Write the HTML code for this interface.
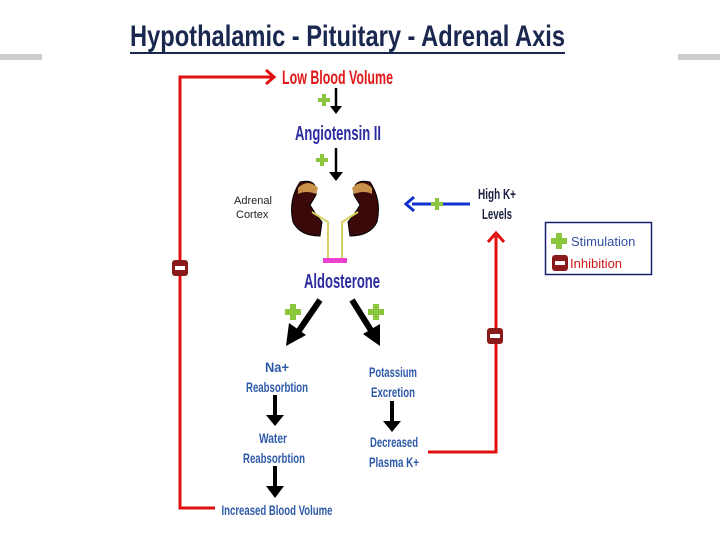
<!DOCTYPE html>
<html><head><meta charset="utf-8"><style>
html,body{margin:0;padding:0;background:#fff;width:720px;height:540px;overflow:hidden}
svg{display:block}
.c{font-family:"Liberation Sans",sans-serif;font-weight:bold}
</style></head><body>
<svg width="720" height="540" viewBox="0 0 720 540" xmlns="http://www.w3.org/2000/svg">
<defs>
<g id="plus"><rect x="-3" y="-8" width="6" height="16" fill="#8cc63f"/><rect x="-8" y="-3" width="16" height="6" fill="#8cc63f"/></g>
<g id="splus"><rect x="-2" y="-6" width="4" height="12" fill="#8cc63f"/><rect x="-6" y="-2" width="12" height="4" fill="#8cc63f"/></g>
<g id="minus"><rect x="-8" y="-8" width="16" height="16" rx="3" fill="#8b1a1a"/><rect x="-5" y="-2" width="10" height="4" fill="#fff"/></g>
</defs>
<rect x="0" y="54" width="42" height="6" fill="#ccc"/>
<rect x="678" y="54" width="42" height="6" fill="#ccc"/>
<text class="c" x="130" y="46" font-size="30" fill="#1a2850" textLength="435" lengthAdjust="spacingAndGlyphs">Hypothalamic - Pituitary - Adrenal Axis</text>
<rect x="130" y="52" width="435" height="2" fill="#1a2850"/>
<polyline points="215,508 180,508 180,77 272,77" fill="none" stroke="#e01010" stroke-width="3"/>
<polyline points="266,70 274,77 266,84" fill="none" stroke="#e01010" stroke-width="3"/>
<use href="#minus" x="180" y="268"/>
<polyline points="428,452 496,452 496,236" fill="none" stroke="#e01010" stroke-width="3"/>
<polyline points="488,242 496,233 504,242" fill="none" stroke="#e01010" stroke-width="3"/>
<use href="#minus" x="495" y="336"/>
<text class="c" x="282" y="84" font-size="19" fill="#e01818" textLength="111" lengthAdjust="spacingAndGlyphs">Low Blood Volume</text>
<use href="#splus" x="324" y="100"/>
<line x1="336" y1="88" x2="336" y2="108" stroke="#000" stroke-width="2.5"/><polygon points="330,106 342,106 336,114" fill="#000"/>
<text class="c" x="295" y="140" font-size="20" fill="#2a2ca0" textLength="86" lengthAdjust="spacingAndGlyphs">Angiotensin II</text>
<use href="#splus" x="322" y="160"/>
<line x1="336" y1="148" x2="336" y2="174" stroke="#000" stroke-width="2.5"/><polygon points="329,172 343,172 336,181" fill="#000"/>
<path d="M300,182 Q318,178 316,195 L310,205 Q316,215 322,222 L320,236 Q300,236 293,222 Q288,200 300,182 Z" fill="#3a0a0a" stroke="#000" stroke-width="1"/>
<path d="M298,188 Q308,178 318,188 L316,194 Q306,190 298,194 Z" fill="#c8904a"/>
<path d="M370,182 Q352,178 354,195 L360,205 Q354,215 348,222 L350,236 Q370,236 377,222 Q382,200 370,182 Z" fill="#3a0a0a" stroke="#000" stroke-width="1"/>
<path d="M372,188 Q362,178 352,188 L354,194 Q364,190 372,194 Z" fill="#c8904a"/>
<polyline points="312,212 328,222 328,258" fill="none" stroke="#d8d060" stroke-width="2"/>
<polyline points="358,212 342,222 342,258" fill="none" stroke="#d8d060" stroke-width="2"/>
<rect x="323" y="258" width="24" height="5" fill="#ee40d0"/>
<text x="234" y="204" font-family="Liberation Sans,sans-serif" font-size="11" fill="#222">Adrenal</text>
<text x="236" y="218" font-family="Liberation Sans,sans-serif" font-size="11" fill="#222">Cortex</text>
<line x1="470" y1="204" x2="412" y2="204" stroke="#1030d0" stroke-width="3"/>
<polyline points="414,197 406,204 414,211" fill="none" stroke="#1030d0" stroke-width="3"/>
<use href="#splus" x="437" y="204"/>
<text class="c" x="497" y="199" font-size="15" fill="#1a2040" text-anchor="middle" textLength="38" lengthAdjust="spacingAndGlyphs">High K+</text>
<text class="c" x="497" y="219" font-size="15" fill="#1a2040" text-anchor="middle" textLength="30" lengthAdjust="spacingAndGlyphs">Levels</text>
<text class="c" x="342" y="288" font-size="20" fill="#2a2ca0" text-anchor="middle" textLength="76" lengthAdjust="spacingAndGlyphs">Aldosterone</text>
<line x1="320" y1="300" x2="298" y2="332" stroke="#000" stroke-width="6"/><polygon points="286,346 289,323 306,335" fill="#000"/>
<line x1="352" y1="300" x2="372" y2="332" stroke="#000" stroke-width="6"/><polygon points="380,346 363,334 380,324" fill="#000"/>
<use href="#plus" x="293" y="312"/><use href="#plus" x="376" y="312"/>
<g class="c" fill="#2e5aa8" text-anchor="middle" font-size="14">
<text x="277" y="372" textLength="24" lengthAdjust="spacingAndGlyphs">Na+</text>
<text x="277" y="392" textLength="62" lengthAdjust="spacingAndGlyphs">Reabsorbtion</text>
<text x="273" y="443" textLength="28" lengthAdjust="spacingAndGlyphs">Water</text>
<text x="274" y="463" textLength="62" lengthAdjust="spacingAndGlyphs">Reabsorbtion</text>
<text x="277" y="515" textLength="111" lengthAdjust="spacingAndGlyphs">Increased Blood Volume</text>
<text x="393" y="377" textLength="48" lengthAdjust="spacingAndGlyphs">Potassium</text>
<text x="393" y="397" textLength="44" lengthAdjust="spacingAndGlyphs">Excretion</text>
<text x="394" y="447" textLength="48" lengthAdjust="spacingAndGlyphs">Decreased</text>
<text x="394" y="467" textLength="50" lengthAdjust="spacingAndGlyphs">Plasma K+</text>
</g>
<g fill="#000">
<rect x="273" y="395" width="4" height="22"/><polygon points="266,415 284,415 275,426"/>
<rect x="273" y="466" width="4" height="22"/><polygon points="266,486 284,486 275,498"/>
<rect x="390" y="401" width="4" height="22"/><polygon points="383,421 401,421 392,432"/>
</g>
<rect x="545.5" y="222.5" width="106" height="52" fill="#fff" stroke="#1a2070" stroke-width="1.5"/>
<use href="#plus" x="559" y="241"/>
<text x="571" y="246" font-family="Liberation Sans,sans-serif" font-size="13" fill="#3050a0">Stimulation</text>
<use href="#minus" x="560" y="263"/>
<text x="570" y="268" font-family="Liberation Sans,sans-serif" font-size="13" fill="#d01818">Inhibition</text>
</svg>
</body></html>
